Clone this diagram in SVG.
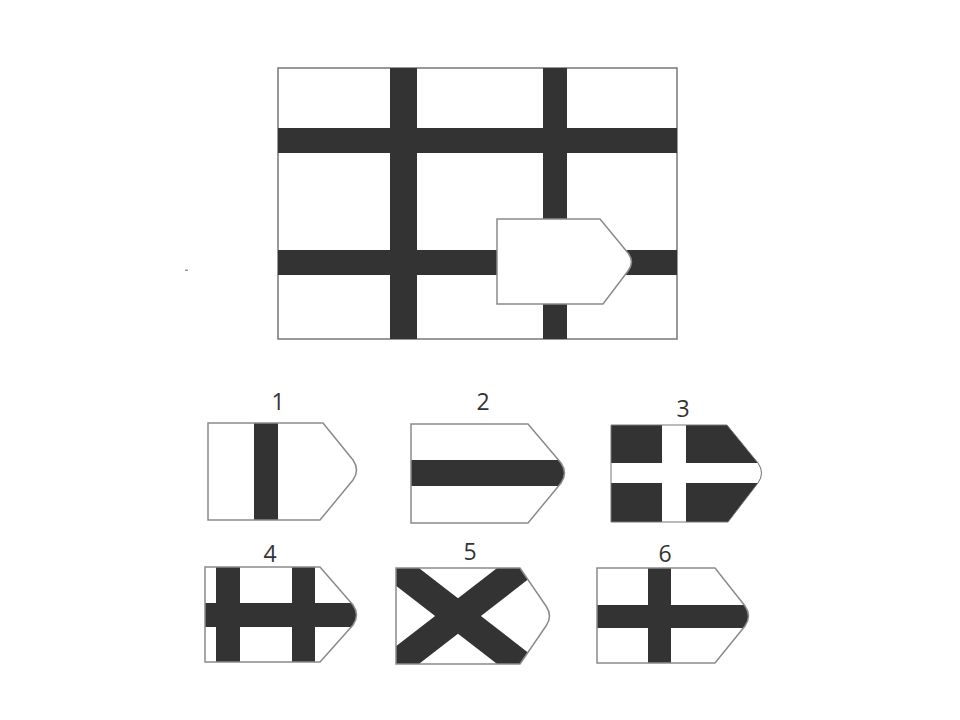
<svg xmlns="http://www.w3.org/2000/svg" width="960" height="720" viewBox="0 0 960 720">
<style>
.bar{fill:#333333}
.ol{fill:none;stroke:#8a8a8a;stroke-width:1.5}
.wf{fill:#ffffff;stroke:#8a8a8a;stroke-width:1.5}
.lbl{font-family:"Open Sans","Liberation Sans",sans-serif;font-size:23px;fill:#333;text-anchor:middle}
</style>
<defs>
<path id="pMain" d="M497,219 H600 L628,253 Q635,262 628,271 L603,304 H497 Z"/>
<path id="p1" d="M208,423 H323 L353,460 Q360,470 353,480 L320,520 H208 Z"/>
<path id="p2" d="M411,424 H528 L561,463 Q568,473 561,483 L528,523 H411 Z"/>
<path id="p3" d="M611,425 H727 L758,463 Q765,473 758,483 L728,522 H611 Z"/>
<path id="p4" d="M205,567 H320 L353,605 Q360,615 353,625 L320,662 H205 Z"/>
<path id="p5" d="M396,568 H520 L546,606 Q553,616 546,626 L520,664 H396 Z"/>
<path id="p6" d="M597,568 H715 L745,606 Q752,616 745,626 L715,663 H597 Z"/>
<clipPath id="c1"><use href="#p1"/></clipPath>
<clipPath id="c2"><use href="#p2"/></clipPath>
<clipPath id="c3"><use href="#p3"/></clipPath>
<clipPath id="c4"><use href="#p4"/></clipPath>
<clipPath id="c5"><use href="#p5"/></clipPath>
<clipPath id="c6"><use href="#p6"/></clipPath>
</defs>

<g id="main-grid">
<rect x="278" y="68" width="399" height="271" fill="#fff" stroke="#777" stroke-width="1.5"/>
<rect class="bar" x="278" y="128" width="399" height="25"/>
<rect class="bar" x="278" y="250" width="399" height="25"/>
<rect class="bar" x="390" y="68" width="27" height="271"/>
<rect class="bar" x="543" y="68" width="24" height="271"/>
<use href="#pMain" class="wf"/>
</g>

<rect x="185" y="269.5" width="3" height="1.5" fill="#999"/>

<g id="option-1">
<text class="lbl" x="278" y="410">1</text>
<use href="#p1" fill="#fff"/>
<rect class="bar" x="254" y="423" width="24" height="97" clip-path="url(#c1)"/>
<use href="#p1" class="ol"/>
</g>

<g id="option-2">
<text class="lbl" x="483" y="410">2</text>
<use href="#p2" fill="#fff"/>
<rect class="bar" x="411" y="460" width="160" height="26" clip-path="url(#c2)"/>
<use href="#p2" class="ol"/>
</g>

<g id="option-3">
<text class="lbl" x="683" y="417">3</text>
<use href="#p3" class="bar"/>
<g clip-path="url(#c3)" fill="#fff">
<rect x="662" y="425" width="24" height="97"/>
<rect x="611" y="463" width="160" height="20"/>
</g>
<use href="#p3" fill="none" stroke="#777" stroke-width="1"/>
</g>

<g id="option-4">
<text class="lbl" x="270" y="562">4</text>
<use href="#p4" fill="#fff"/>
<g clip-path="url(#c4)">
<rect class="bar" x="216" y="567" width="24" height="95"/>
<rect class="bar" x="292" y="567" width="23" height="95"/>
<rect class="bar" x="205" y="603" width="160" height="24"/>
</g>
<use href="#p4" class="ol"/>
</g>

<g id="option-5">
<text class="lbl" x="470" y="560">5</text>
<use href="#p5" fill="#fff"/>
<g clip-path="url(#c5)" stroke="#333" stroke-width="28">
<line x1="396" y1="568" x2="520" y2="664"/>
<line x1="396" y1="664" x2="520" y2="568"/>
</g>
<use href="#p5" class="ol"/>
</g>

<g id="option-6">
<text class="lbl" x="665" y="562">6</text>
<use href="#p6" fill="#fff"/>
<g clip-path="url(#c6)">
<rect class="bar" x="648" y="568" width="23" height="95"/>
<rect class="bar" x="597" y="605" width="160" height="23"/>
</g>
<use href="#p6" class="ol"/>
</g>
</svg>
